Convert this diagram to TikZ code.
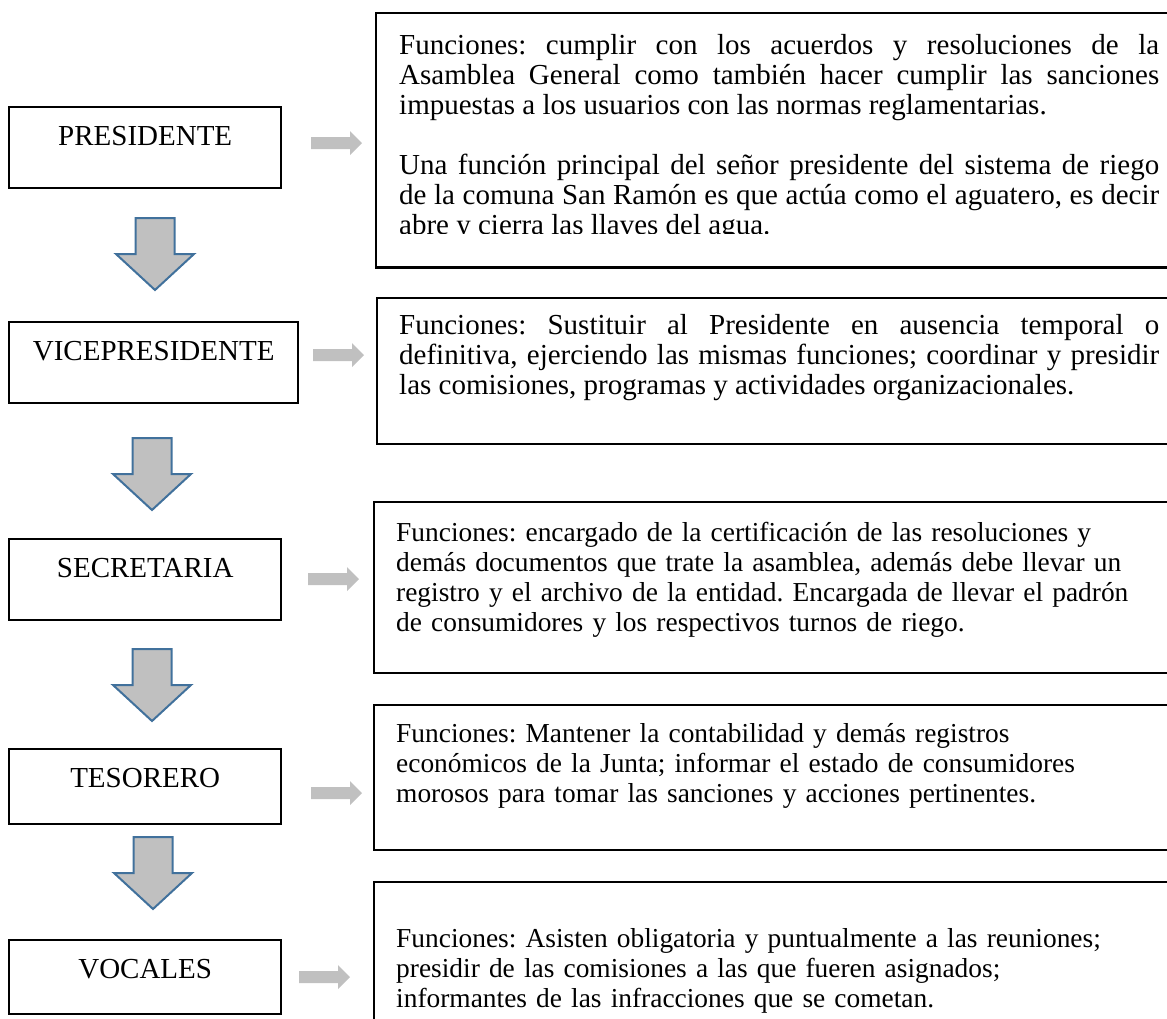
\documentclass[tikz,border=0pt]{standalone}
\usepackage{fontspec}
\setmainfont{Liberation Serif}
\frenchspacing
\definecolor{flechagris}{RGB}{192,192,192}
\definecolor{bordeazul}{RGB}{65,113,156}
\tikzset{
  cargo/.style={draw,line width=1.2pt,anchor=north west,inner xsep=0pt,inner ysep=0pt,
    text height=19pt,text depth=#1,font=\fontsize{14.5}{15}\selectfont},
  funcion/.style={draw,line width=1.2pt,anchor=north west,inner xsep=11pt,inner ysep=0pt,
    text width=380pt,font=\fontsize{13.7}{15}\selectfont},
  grande/.style={font=\fontsize{14.5}{15}\selectfont},
}
\begin{document}
\begin{tikzpicture}[x=0.5pt,y=-0.5pt]
  \clip (0,0) rectangle (1167,1018);

  % cargos
  \node[cargo=21.5pt,minimum width=136pt]   (pres) at (8,106) {PRESIDENTE};
  \node[cargo=21.5pt,minimum width=144.5pt] (vice) at (8,321) {VICEPRESIDENTE};
  \node[cargo=21.5pt,minimum width=136pt]   (secr) at (8,538) {SECRETARIA};
  \node[cargo=18.5pt,minimum width=136pt]   (teso) at (8,748) {TESORERO};
  \node[cargo=18pt,minimum width=136pt]     (voca) at (8,939) {VOCALES};

  % funciones
  \begin{scope}
    \clip (0,0) rectangle (1167,233);
    \node[funcion,grande,draw=none,align=justify,text height=20pt,text depth=106pt] (fpres) at (376,13)
      {Funciones: cumplir con los acuerdos y resoluciones de la\linebreak
       Asamblea General como también hacer cumplir las sanciones\linebreak
       impuestas a los usuarios con las normas reglamentarias.\par\vspace{15pt}
       Una función principal del señor presidente del sistema de riego\linebreak
       de la comuna San Ramón es que actúa como el aguatero, es decir\linebreak
       abre y cierra las llaves del agua.};
  \end{scope}
  \draw[line width=1.2pt] (fpres.north west) rectangle (fpres.south east);

  \node[funcion,grande,align=justify,text height=18pt,text depth=55pt] (fvice) at (376,297)
    {Funciones: Sustituir al Presidente en ausencia temporal o\linebreak
     definitiva, ejerciendo las mismas funciones; coordinar y presidir\linebreak
     las comisiones, programas y actividades organizacionales.};
  \node[funcion,align=left,text height=19.5pt,text depth=66pt] (fsecr) at (373,501)
    {Funciones: encargado de la certificación de las resoluciones y\\
     demás documentos que trate la asamblea, además debe llevar un\\
     registro y el archivo de la entidad. Encargada de llevar el padrón\\
     de consumidores y los respectivos turnos de riego.};
  \node[funcion,align=left,text height=18.5pt,text depth=54pt] (fteso) at (373,704)
    {Funciones: Mantener la contabilidad y demás registros\\
     económicos de la Junta; informar el estado de consumidores\\
     morosos para tomar las sanciones y acciones pertinentes.};
  \node[funcion,align=left,text height=32.5pt,text depth=42pt] (fvoca) at (373,881)
    {Funciones: Asisten obligatoria y puntualmente a las reuniones;\\
     presidir de las comisiones a las que fueren asignados;\\
     informantes de las infracciones que se cometan.};

  % flechas hacia abajo
  \foreach \x/\y in {155/218,152/438,152/649,153/837}
    \filldraw[fill=flechagris,draw=bordeazul,line width=1pt]
      (\x-19.5,\y) -- (\x+19.5,\y) -- (\x+19.5,\y+36) -- (\x+39,\y+36) -- (\x,\y+72)
      -- (\x-39,\y+36) -- (\x-19.5,\y+36) -- cycle;

  % flechas hacia la derecha
  \foreach \x/\y in {311/143,313/355,308/579,311/793,299/977}
    \fill[flechagris] (\x,\y-6) -- (\x+39,\y-6) -- (\x+39,\y-12) -- (\x+51,\y)
      -- (\x+39,\y+12) -- (\x+39,\y+6) -- (\x,\y+6) -- cycle;
\end{tikzpicture}
\end{document}
